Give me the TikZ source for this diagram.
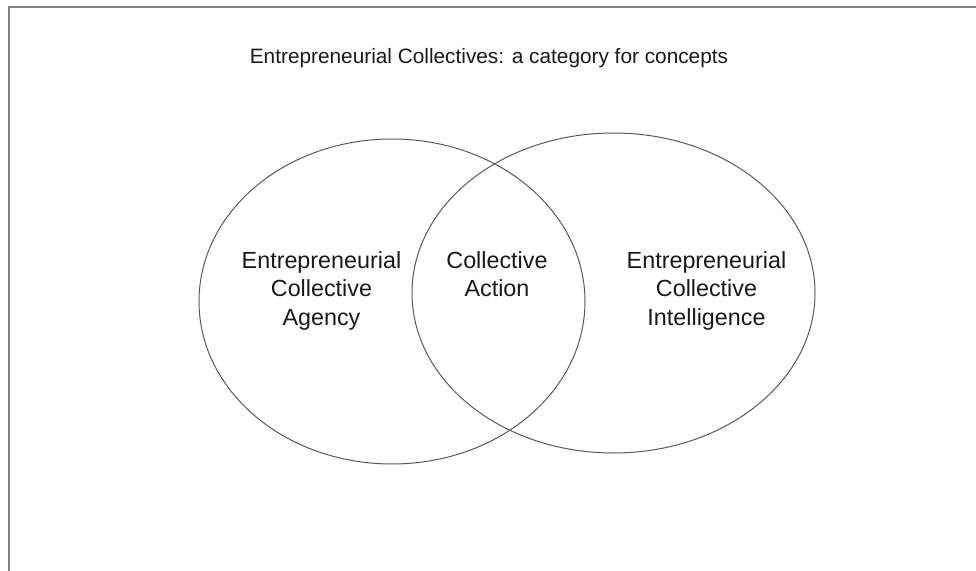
\documentclass[tikz,border=0pt]{standalone}
\usepackage{fontspec}
\setmainfont{Liberation Sans}
\usetikzlibrary{shapes.geometric}

\begin{document}
\begin{tikzpicture}[
  x=0.75pt, y=-0.75pt,
  set/.style={draw=black!65, line width=0.75pt, ellipse, inner sep=0pt},
  lbl/.style={align=center, anchor=north, inner sep=0pt, text=black!90, font=\fontsize{17.5}{21.4}\selectfont},
  frame/.style={draw=black!50, line width=1.5pt}
]
  \useasboundingbox (0,0) rectangle (976,571);
  \coordinate (corner) at (9,7);
  \coordinate (topend) at (976,7);
  \coordinate (leftend) at (9,571);
  \draw[frame] (topend) -- (corner) -- (leftend);

  \node[anchor=base, inner sep=0pt, text=black!90, font=\fontsize{15.6}{19}\selectfont] (title) at (489,63) {Entrepreneurial Collectives: a category for concepts};

  \node[set, minimum width=289.5pt, minimum height=243.75pt] (agency) at (392,301.5) {};
  \node[set, minimum width=302.25pt, minimum height=240pt] (intel) at (613.5,293) {};

  \node[lbl] (agencytxt) at (321.5,251) {Entrepreneurial\\Collective\\Agency};
  \node[lbl] (actiontxt) at (497,251) {Collective\\Action};
  \node[lbl] (inteltxt) at (706.5,251) {Entrepreneurial\\Collective\\Intelligence};
\end{tikzpicture}
\end{document}
